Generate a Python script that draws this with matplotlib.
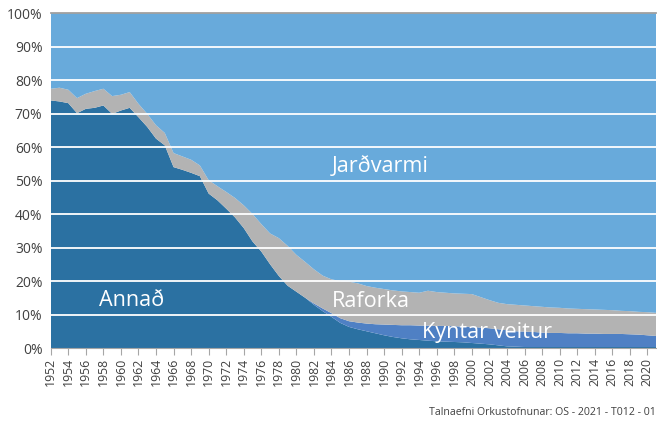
import numpy as np
import matplotlib.pyplot as plt

plt.rcParams['font.family'] = ['Open Sans', 'DejaVu Sans']

years = list(range(1952, 2022))

# shares in %
annad = [73.9, 73.6, 73.1, 70.1, 71.4, 71.7, 72.4, 69.9, 70.9, 71.7,
         68.9, 66.0, 62.5, 60.5, 54.0, 53.2, 52.3, 51.3, 46.1, 44.1,
         41.6, 39.0, 35.8, 31.8, 28.8, 25.0, 21.5, 18.6, 16.8, 15.0,
         12.9, 11.0, 9.3, 7.5, 6.3, 5.6, 5.0, 4.4, 3.8, 3.3,
         2.9, 2.6, 2.4, 2.2, 2.0, 1.9, 1.8, 1.7, 1.5, 1.3,
         1.1, 0.8, 0.5, 0.4, 0.3, 0.3, 0.3, 0.3, 0.3, 0.3,
         0.3, 0.3, 0.3, 0.3, 0.3, 0.3, 0.3, 0.3, 0.3, 0.3]
kyntar = [0, 0, 0, 0, 0, 0, 0, 0, 0, 0,
          0, 0, 0, 0, 0, 0, 0, 0, 0, 0,
          0, 0, 0, 0, 0, 0, 0, 0, 0, 0,
          0.4, 0.8, 1.1, 1.4, 1.7, 2.0, 2.3, 2.7, 3.2, 3.6,
          3.9, 4.2, 4.3, 4.5, 4.6, 4.7, 4.7, 4.7, 4.8, 4.8,
          4.8, 4.8, 4.8, 4.6, 4.6, 4.5, 4.3, 4.2, 4.2, 4.1,
          4.1, 4.0, 4.0, 3.9, 3.9, 3.9, 3.8, 3.7, 3.5, 3.3]
raforka = [3.5, 4.1, 4.0, 4.5, 4.5, 5.0, 5.0, 5.3, 4.7, 4.7,
           4.0, 3.9, 4.0, 3.7, 4.2, 4.0, 3.9, 3.2, 4.0, 4.2,
           5.0, 5.8, 6.8, 8.2, 8.2, 9.2, 11.3, 11.9, 11.0, 10.7,
           10.2, 9.8, 10.1, 11.1, 11.8, 11.7, 11.2, 10.9, 10.6, 10.3,
           10.1, 9.9, 9.8, 10.4, 10.1, 9.9, 9.8, 9.8, 9.8, 9.1,
           8.4, 7.9, 7.8, 7.9, 7.8, 7.7, 7.7, 7.6, 7.5, 7.4,
           7.3, 7.3, 7.2, 7.2, 7.1, 6.9, 6.9, 6.8, 6.9, 6.9]
jardvarmi = [22.6, 22.3, 22.9, 25.4, 24.1, 23.3, 22.6, 24.8, 24.4, 23.6,
             27.1, 30.1, 33.5, 35.8, 41.8, 42.8, 43.8, 45.5, 49.9, 51.7,
             53.4, 55.2, 57.4, 60.0, 63.0, 65.8, 67.2, 69.5, 72.2, 74.3,
             76.5, 78.4, 79.5, 80.0, 80.2, 80.7, 81.5, 82.0, 82.4, 82.8,
             83.1, 83.3, 83.5, 82.9, 83.3, 83.5, 83.7, 83.8, 83.9, 84.8,
             85.7, 86.5, 86.9, 87.1, 87.3, 87.5, 87.7, 87.9, 88.0, 88.2,
             88.3, 88.4, 88.5, 88.6, 88.7, 88.9, 89.0, 89.2, 89.3, 89.5]

colors = ['#2b71a2', '#4f80c4', '#b3b3b3', '#68aadb']

fig = plt.figure(figsize=(6.57, 4.24), dpi=100)
ax = fig.add_axes([0.0772, 0.1792, 0.9215, 0.7901])

ax.stackplot(years, annad, kyntar, raforka, jardvarmi, colors=colors, lw=0)

ax.set_xlim(1952, 2021)
ax.set_ylim(0, 100)

# white gridlines over the areas, grey line on top
for v in range(10, 100, 10):
    ax.axhline(v, color='white', lw=1.3, zorder=3)
ax.axhline(100, color='#a0a0a0', lw=1.3, zorder=3, clip_on=False)

ax.set_yticks(range(0, 101, 10))
ax.set_yticklabels([f'{v}%' for v in range(0, 101, 10)])
ax.set_xticks(range(1952, 2021, 2))
ax.set_xticklabels([str(y) for y in range(1952, 2021, 2)], rotation=90)

ax.tick_params(axis='y', length=0, pad=6, labelsize=10, labelcolor='#404040')
ax.tick_params(axis='x', length=5, color='#a6a6a6', pad=2, labelsize=8.8,
               labelcolor='#404040')

for s in ['top', 'right', 'left']:
    ax.spines[s].set_visible(False)
ax.spines['bottom'].set_color('#a6a6a6')
ax.spines['bottom'].set_zorder(4)

# series labels
lab = dict(color='white', fontsize=15.6, ha='center', va='center', zorder=5)
ax.text(1989.6, 54.2, 'Jarðvarmi', **lab)
ax.text(1961.2, 14.2, 'Annað', **lab)
ax.text(1988.5, 13.9, 'Raforka', **lab)
ax.text(2001.7, 4.6, 'Kyntar veitur', **lab)

fig.text(0.998, 0.026, 'Talnaefni Orkustofnunar: OS - 2021 - T012 - 01',
         ha='right', va='center', fontsize=7.6, color='#404040')

fig.savefig('out.png', dpi=100)
